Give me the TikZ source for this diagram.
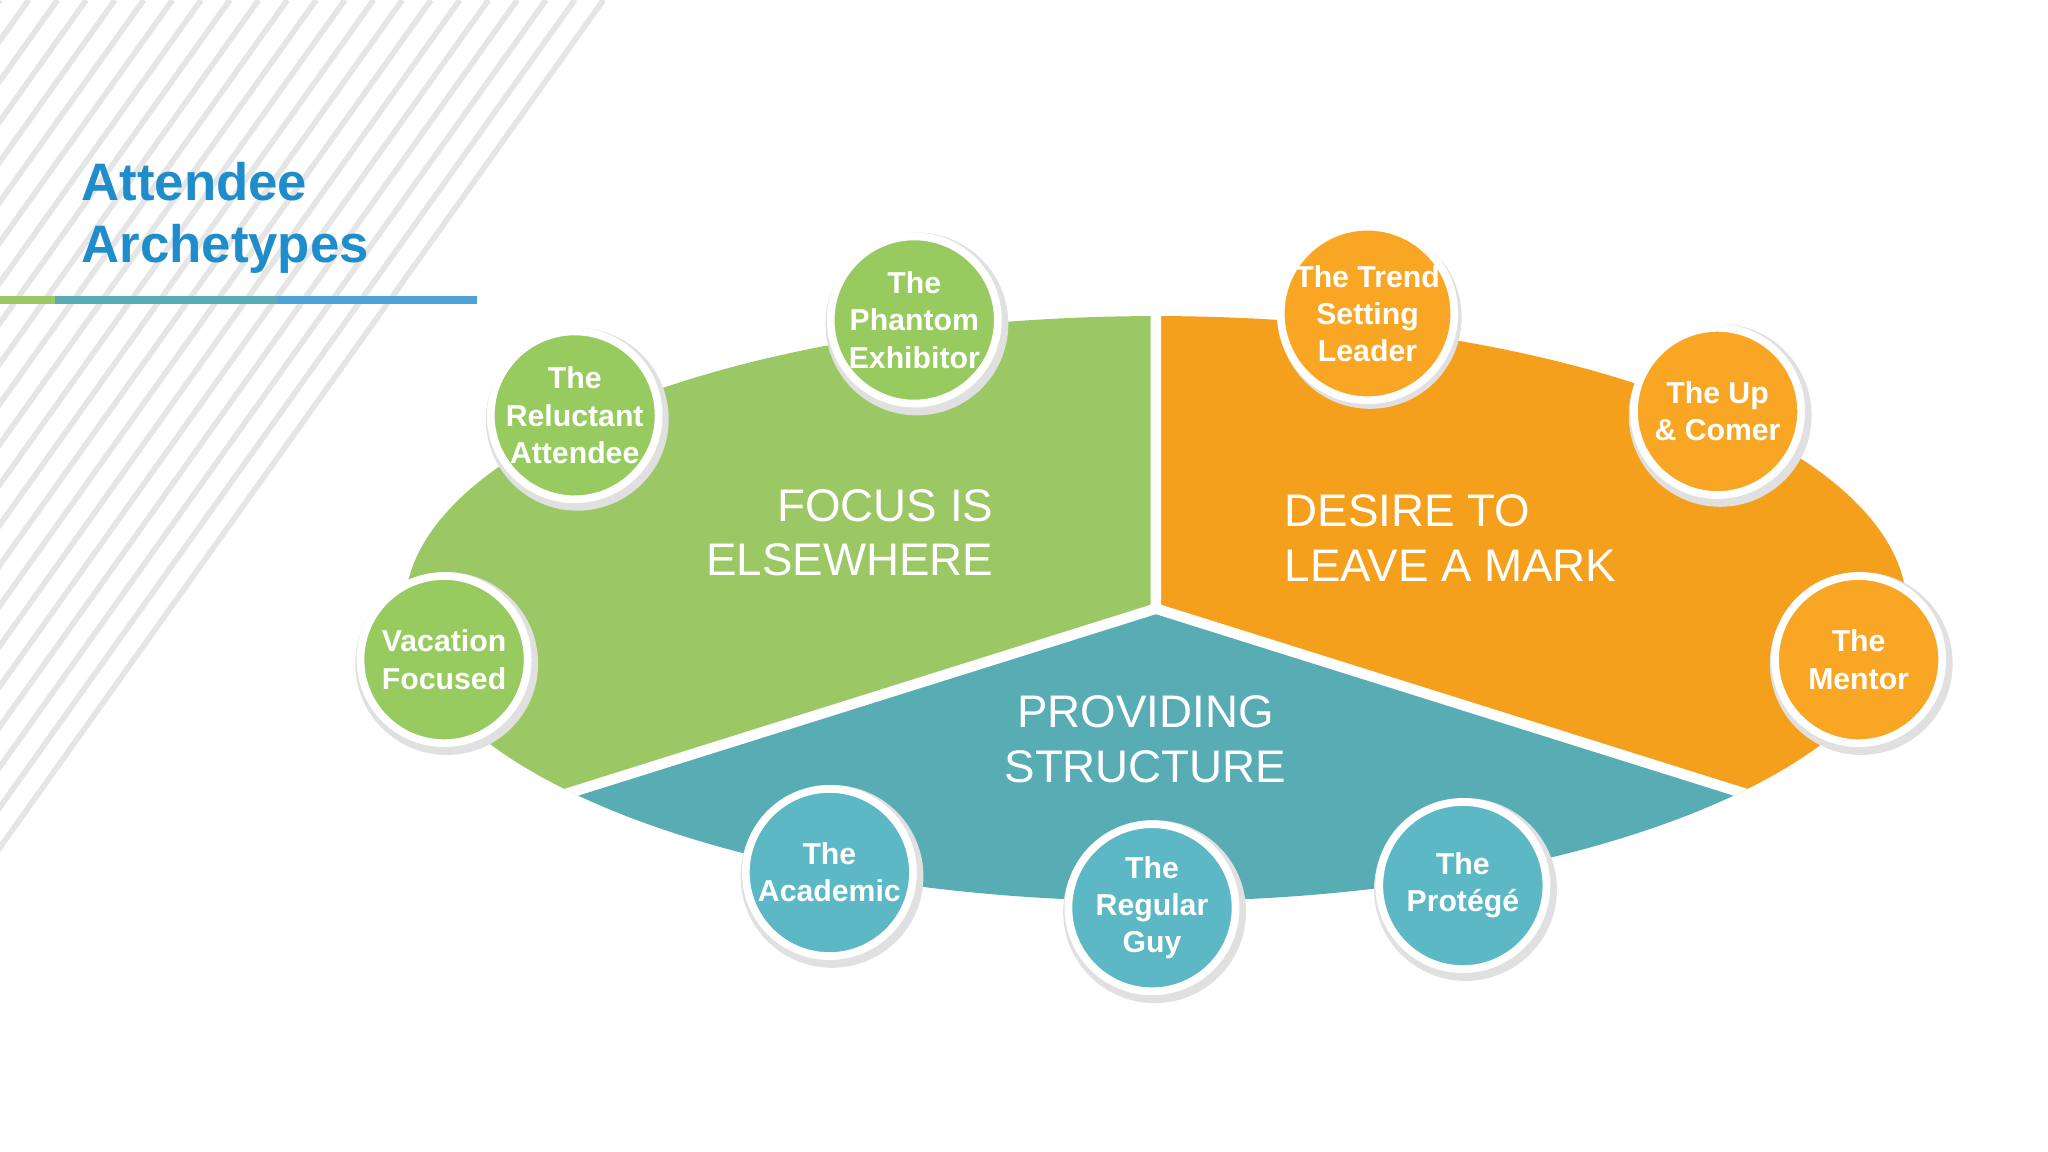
\documentclass[tikz,border=0pt]{standalone}
\usepackage{fontspec}
\setmainfont{Liberation Sans}
\begin{document}
\begin{tikzpicture}[x=0.013061cm,y=-0.013061cm,
  bub/.style={circle,minimum size=128*0.013061cm,draw=white,line width=2.2pt,text=white,font=\fontsize{8.6}{10.6}\selectfont\bfseries,align=center,inner sep=0pt},
  big/.style={text=white,font=\fontsize{13}{15.5}\selectfont,inner sep=0pt}]
\definecolor{gr}{HTML}{9BC865}\definecolor{grc}{HTML}{97CB60}
\definecolor{orn}{HTML}{F5A01C}\definecolor{ornc}{HTML}{F8A624}
\definecolor{tl}{HTML}{58ACB4}\definecolor{tlc}{HTML}{5CB8C4}
\definecolor{ttl}{HTML}{1F8CCB}
\useasboundingbox (0,0) rectangle (1568,882);
\fill[white] (0,0) rectangle (1568,882);
% stripes
\begin{scope}
\clip (0,0) -- (470,0) -- (0,660) -- cycle;
\foreach \k in {0,22,...,1000} \draw[gray!20,line width=1.6pt] (\k,0) -- (\k-470,660);
\end{scope}
% title
\node[anchor=north west,text=ttl,font=\fontsize{15}{17.6}\selectfont\bfseries,align=left,inner sep=0pt] (title) at (62,124) {Attendee\\Archetypes};
\fill[gr] (0,227) rectangle (42,233);
\fill[tl] (42,227) rectangle (212,233);
\fill[ttl!80] (212,227) rectangle (365,233);
% sectors
\begin{scope}
\clip (885,466) ellipse [x radius=575,y radius=224];
\fill[gr] (885,200) -- (885,466) -- (300,650) -- (300,200) -- cycle;
\fill[orn] (885,200) -- (885,466) -- (1470,650) -- (1470,200) -- cycle;
\fill[tl] (300,650) -- (885,466) -- (1470,650) -- (1470,720) -- (300,720) -- cycle;
\draw[white,line width=3pt] (885,200) -- (885,466) -- (280,656);
\draw[white,line width=3pt] (885,466) -- (1490,656);
\end{scope}
\node[big,anchor=east,align=right] (focus) at (761,408) {FOCUS IS\\ELSEWHERE};
\node[big,anchor=west,align=left] (desire) at (983,412) {DESIRE TO\\LEAVE A MARK};
\node[big,align=center] (prov) at (877,566) {PROVIDING\\STRUCTURE};
% bubbles
\foreach \x/\y/\c/\n/\t in {
 700/245/grc/ph/{The\\Phantom\\Exhibitor},
 440/318/grc/rel/{The\\Reluctant\\Attendee},
 340/505/grc/vac/{Vacation\\Focused},
 1047/240/ornc/tr/{The Trend\\Setting\\Leader},
 1315/315/ornc/up/{The Up\\\& Comer},
 1423/505/ornc/men/{The\\Mentor},
 635/668/tlc/ac/{The\\Academic},
 882/695/tlc/reg/{The\\Regular\\Guy},
 1120/678/tlc/pro/{The\\Protégé}}{
 \fill[black!12] (\x+2,\y+3) circle (70);
 \node[bub,fill=\c] (\n) at (\x,\y) {\t};
}
\end{tikzpicture}
\end{document}
